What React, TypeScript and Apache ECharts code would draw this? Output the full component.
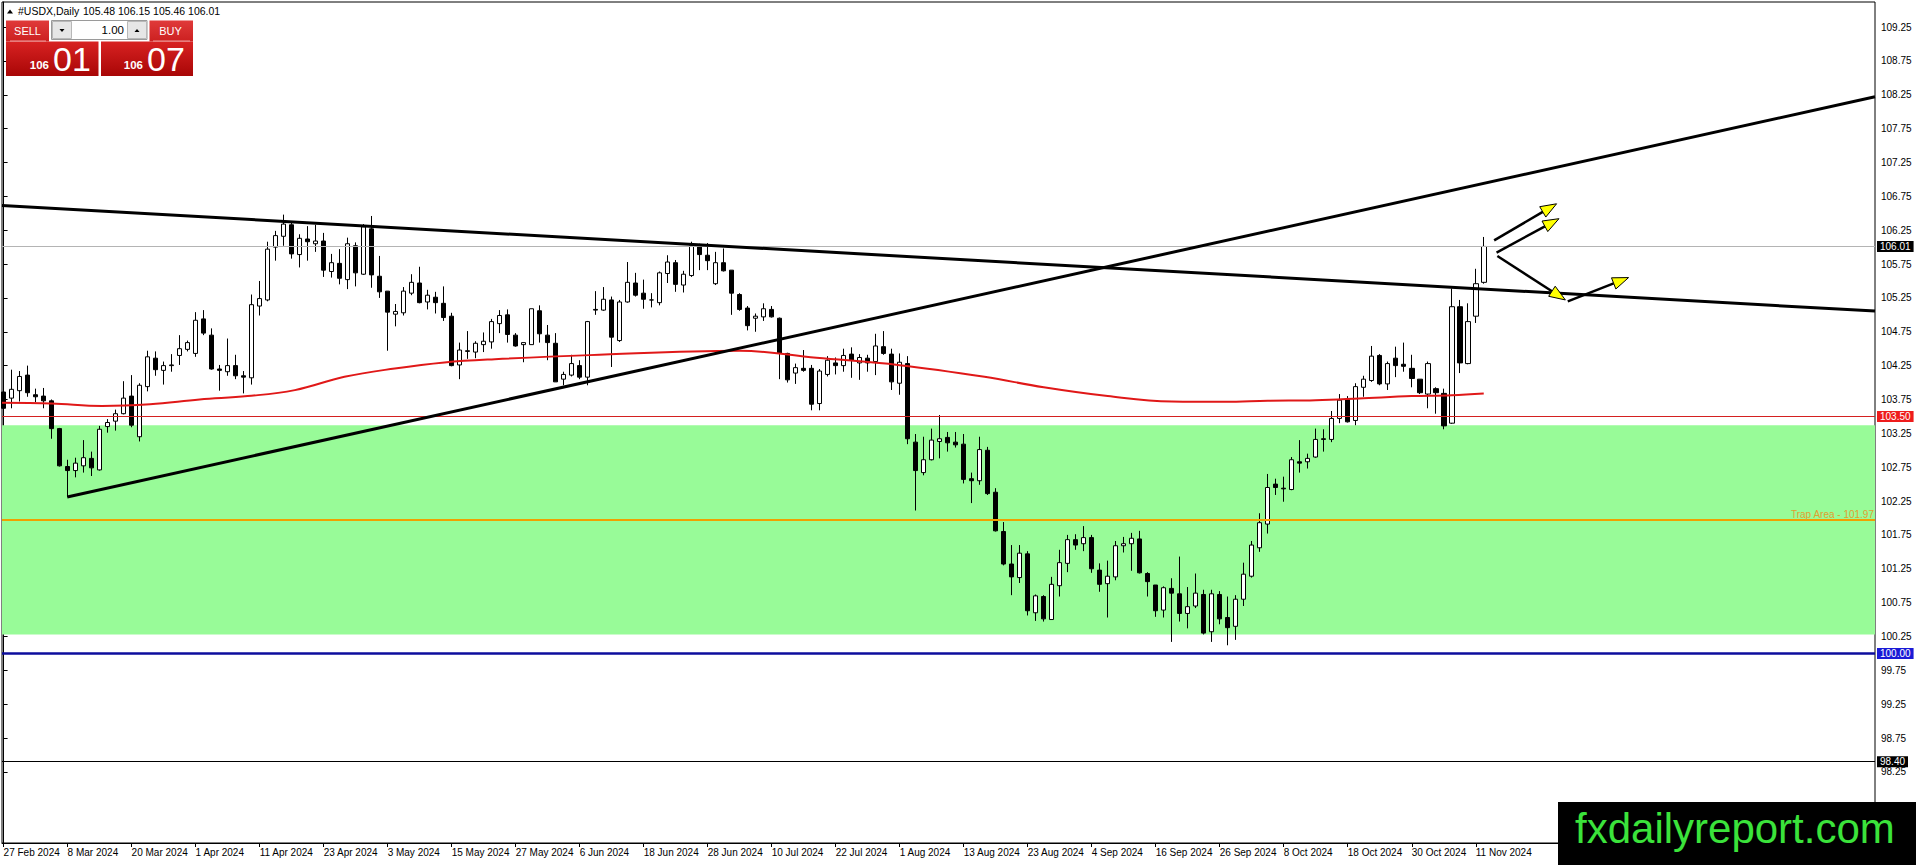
import React, { useEffect, useRef } from "react";
import * as echarts from "echarts";

// ---------- data ----------
const symbolName = "#USDX,Daily";
const bidPrice = 106.01;
const askPrice = 106.07;
const lotSize = "1.00";

const tickLabels = [
  "27 Feb 2024", "8 Mar 2024", "20 Mar 2024", "1 Apr 2024", "11 Apr 2024", "23 Apr 2024",
  "3 May 2024", "15 May 2024", "27 May 2024", "6 Jun 2024", "18 Jun 2024", "28 Jun 2024",
  "10 Jul 2024", "22 Jul 2024", "1 Aug 2024", "13 Aug 2024", "23 Aug 2024", "4 Sep 2024",
  "16 Sep 2024", "26 Sep 2024", "8 Oct 2024", "18 Oct 2024", "30 Oct 2024", "11 Nov 2024",
];
const tickBars = [0, 8, 16, 24, 32, 40, 48, 56, 64, 72, 80, 88, 96, 104, 112, 120, 128, 136, 144, 152, 160, 168, 176, 184];

const priceTicks = [
  98.25, 98.75, 99.25, 99.75, 100.25, 100.75, 101.25, 101.75, 102.25, 102.75, 103.25, 103.75,
  104.25, 104.75, 105.25, 105.75, 106.25, 106.75, 107.25, 107.75, 108.25, 108.75, 109.25,
];

// daily bars from 27 Feb 2024: [open, high, low, close]
const ohlc: number[][] = [
  [103.86, 103.95, 103.55, 103.62], [103.77, 104.19, 103.62, 103.90], [103.88, 104.17, 103.72, 104.09],
  [104.11, 104.25, 103.79, 103.85], [103.82, 103.91, 103.71, 103.79], [103.80, 103.92, 103.62, 103.73],
  [103.73, 103.75, 103.17, 103.32], [103.32, 103.33, 102.76, 102.77], [102.76, 102.86, 102.31, 102.70],
  [102.70, 102.89, 102.60, 102.81], [102.77, 103.15, 102.67, 102.89], [102.88, 102.98, 102.62, 102.74],
  [102.71, 103.36, 102.70, 103.31], [103.35, 103.46, 103.26, 103.41], [103.43, 103.60, 103.29, 103.54],
  [103.54, 104.02, 103.53, 103.77], [103.80, 104.11, 103.34, 103.37], [103.20, 103.99, 103.13, 103.96],
  [103.94, 104.47, 103.87, 104.38], [104.36, 104.46, 104.10, 104.19], [104.18, 104.31, 103.97, 104.25],
  [104.25, 104.42, 104.16, 104.26], [104.40, 104.70, 104.26, 104.50], [104.49, 104.62, 104.46, 104.59],
  [104.43, 105.04, 104.38, 104.92], [104.94, 105.07, 104.70, 104.73], [104.70, 104.80, 104.19, 104.20],
  [104.20, 104.26, 103.88, 104.18], [104.16, 104.65, 104.10, 104.25], [104.25, 104.41, 104.05, 104.10],
  [104.10, 104.17, 103.84, 104.08], [104.07, 105.30, 103.97, 105.15], [105.13, 105.50, 104.99, 105.24],
  [105.22, 106.08, 105.20, 105.97], [106.00, 106.24, 105.80, 106.17], [106.16, 106.48, 106.02, 106.34],
  [106.33, 106.38, 105.83, 105.90], [105.89, 106.19, 105.70, 106.13], [106.12, 106.31, 105.80, 106.08],
  [106.05, 106.33, 105.93, 106.09], [106.09, 106.21, 105.56, 105.66], [105.64, 105.90, 105.55, 105.77],
  [105.76, 105.97, 105.45, 105.54], [105.52, 106.14, 105.38, 106.05], [106.02, 106.07, 105.42, 105.62],
  [105.60, 106.34, 105.59, 106.30], [106.27, 106.46, 105.40, 105.59], [105.57, 105.87, 105.25, 105.34],
  [105.35, 105.35, 104.47, 105.04], [105.01, 105.16, 104.83, 105.05], [105.03, 105.41, 104.99, 105.35],
  [105.32, 105.60, 105.29, 105.48], [105.47, 105.71, 105.17, 105.18], [105.19, 105.37, 105.08, 105.29],
  [105.26, 105.34, 105.02, 105.18], [105.17, 105.42, 104.91, 104.96], [104.98, 105.03, 104.24, 104.25],
  [104.26, 104.59, 104.05, 104.48], [104.46, 104.76, 104.35, 104.47], [104.45, 104.61, 104.36, 104.58],
  [104.56, 104.74, 104.45, 104.61], [104.60, 104.94, 104.50, 104.90], [104.87, 105.07, 104.73, 104.99],
  [105.00, 105.08, 104.59, 104.71], [104.70, 104.73, 104.53, 104.54], [104.56, 104.59, 104.30, 104.59],
  [104.56, 105.09, 104.56, 105.09], [105.06, 105.14, 104.59, 104.72], [104.70, 104.85, 104.33, 104.59],
  [104.58, 104.73, 104.01, 104.01], [104.05, 104.16, 103.96, 104.12], [104.11, 104.41, 104.09, 104.28],
  [104.25, 104.33, 104.05, 104.08], [104.08, 104.91, 103.96, 104.90], [105.08, 105.35, 105.00, 105.07],
  [105.07, 105.41, 105.06, 105.23], [105.22, 105.27, 104.23, 104.67], [104.62, 105.22, 104.60, 105.19],
  [105.19, 105.78, 105.18, 105.48], [105.47, 105.62, 105.27, 105.29], [105.32, 105.52, 105.09, 105.23],
  [105.22, 105.32, 105.11, 105.22], [105.18, 105.64, 105.14, 105.62], [105.61, 105.88, 105.47, 105.78],
  [105.77, 105.81, 105.34, 105.45], [105.44, 105.65, 105.33, 105.60], [105.58, 106.08, 105.56, 106.02],
  [106.01, 106.05, 105.66, 105.89], [105.88, 106.06, 105.66, 105.80], [105.46, 105.93, 105.44, 105.77],
  [105.77, 105.98, 105.64, 105.65], [105.66, 105.66, 105.00, 105.32], [105.30, 105.32, 105.06, 105.08],
  [105.10, 105.13, 104.77, 104.84], [104.95, 105.02, 104.75, 104.98], [104.97, 105.17, 104.91, 105.09],
  [105.08, 105.13, 104.96, 104.97], [104.95, 104.96, 104.05, 104.43], [104.43, 104.44, 104.00, 104.04],
  [104.14, 104.28, 103.98, 104.22], [104.21, 104.48, 104.16, 104.18], [104.21, 104.26, 103.59, 103.68],
  [103.69, 104.20, 103.59, 104.17], [104.12, 104.39, 104.09, 104.33], [104.29, 104.37, 104.12, 104.25],
  [104.25, 104.50, 104.16, 104.40], [104.42, 104.52, 104.07, 104.33], [104.29, 104.42, 104.04, 104.37],
  [104.36, 104.41, 104.16, 104.29], [104.31, 104.72, 104.11, 104.54], [104.53, 104.76, 104.41, 104.43],
  [104.42, 104.50, 103.89, 104.01], [103.99, 104.43, 103.82, 104.30], [104.28, 104.39, 103.09, 103.17],
  [103.12, 103.24, 102.11, 102.70], [102.67, 103.20, 102.63, 102.86], [102.86, 103.32, 102.85, 103.15],
  [103.13, 103.52, 102.88, 103.17], [103.19, 103.27, 102.98, 103.11], [103.12, 103.27, 103.04, 103.08],
  [103.09, 103.24, 102.51, 102.57], [102.58, 102.67, 102.22, 102.55], [102.55, 103.20, 102.49, 103.01],
  [103.00, 103.05, 102.34, 102.36], [102.38, 102.44, 101.80, 101.81], [101.80, 101.94, 101.30, 101.32],
  [101.32, 101.60, 100.86, 101.13], [101.12, 101.60, 101.04, 101.48], [101.47, 101.51, 100.56, 100.63],
  [100.60, 100.87, 100.48, 100.85], [100.84, 100.86, 100.47, 100.51], [100.50, 101.13, 100.50, 101.02],
  [101.00, 101.53, 100.84, 101.34], [101.33, 101.75, 101.20, 101.68], [101.68, 101.76, 101.53, 101.60],
  [101.62, 101.88, 101.51, 101.71], [101.71, 101.75, 101.19, 101.25], [101.23, 101.33, 100.91, 101.02],
  [101.03, 101.37, 100.53, 101.14], [101.13, 101.66, 101.08, 101.59], [101.59, 101.72, 101.49, 101.62],
  [101.62, 101.78, 101.22, 101.70], [101.69, 101.81, 101.18, 101.19], [101.18, 101.20, 100.84, 101.06],
  [101.01, 101.01, 100.54, 100.63], [100.64, 100.99, 100.53, 100.97], [100.96, 101.11, 100.17, 100.89],
  [100.88, 101.43, 100.47, 100.59], [100.59, 100.98, 100.37, 100.69], [100.70, 101.18, 100.67, 100.89],
  [100.87, 100.94, 100.28, 100.30], [100.32, 100.94, 100.17, 100.88], [100.87, 100.92, 100.43, 100.51],
  [100.53, 100.84, 100.12, 100.38], [100.40, 100.86, 100.20, 100.80], [100.80, 101.34, 100.70, 101.17],
  [101.14, 101.66, 101.12, 101.60], [101.56, 102.07, 101.50, 101.93], [101.91, 102.65, 101.77, 102.45],
  [102.50, 102.58, 102.34, 102.45], [102.44, 102.61, 102.24, 102.43], [102.42, 102.90, 102.41, 102.86],
  [102.83, 103.15, 102.67, 102.81], [102.83, 102.95, 102.73, 102.88], [102.90, 103.32, 102.89, 103.16],
  [103.17, 103.31, 102.98, 103.16], [103.16, 103.58, 103.12, 103.47], [103.47, 103.83, 103.40, 103.74],
  [103.75, 103.80, 103.41, 103.42], [103.44, 103.99, 103.37, 103.94], [103.93, 104.10, 103.79, 104.05],
  [104.03, 104.54, 104.01, 104.39], [104.40, 104.42, 103.96, 103.98], [103.98, 104.31, 103.89, 104.28],
  [104.36, 104.53, 104.08, 104.25], [104.27, 104.59, 104.16, 104.24], [104.21, 104.41, 103.93, 104.06],
  [104.05, 104.05, 103.83, 103.85], [103.83, 104.31, 103.62, 104.28], [103.91, 103.93, 103.54, 103.85],
  [103.84, 103.91, 103.31, 103.36], [103.40, 105.39, 103.39, 105.12], [105.12, 105.22, 104.14, 104.29],
  [104.28, 105.17, 104.27, 104.90], [104.98, 105.68, 104.88, 105.46], [105.48, 106.15, 105.46, 106.01],
];

// moving average: [bar, value]
const maPoints = [
  [-0.2, 103.7], [6, 103.69], [12.3, 103.655], [18.3, 103.68], [24.5, 103.75], [30.5, 103.8],
  [36.4, 103.888], [42.6, 104.085], [48.9, 104.208], [55.1, 104.297], [61.4, 104.345],
  [73.25, 104.405], [92, 104.469], [101.6, 104.366], [112, 104.257], [122.6, 104.085],
  [130, 103.93], [138, 103.8], [146, 103.72], [152.6, 103.715], [158, 103.73], [164, 103.74],
  [169.4, 103.765], [176, 103.8], [181, 103.814], [185, 103.84],
];

const trendDown = [[-0.2, 106.615], [233.9, 105.055]];
const trendUp = [[7.95, 102.31], [233.9, 108.22]];

// arrows: [fromBar, fromPrice, toBar, toPrice]
const arrows = [
  [186.3, 106.1, 194.1, 106.64],
  [186.6, 105.92, 194.4, 106.42],
  [186.7, 105.87, 195.2, 105.22],
  [195.5, 105.2, 203.1, 105.55],
];

const trapZoneTop = 103.37;
const trapZoneBottom = 100.28;
const trapLevel = 101.97;
const redLevel = 103.5;
const blueLevel = 100.0;
const blackLevel = 98.4;

// ---------- chart ----------
const AXIS_FONT = "'Liberation Sans', Arial, sans-serif";
const UI_FONT = "'Liberation Sans', Arial, sans-serif";
const X_MIN = -0.2;
const X_MAX = 233.9;

function tag(text: string, bg: string) {
  return {
    show: true,
    position: "end",
    distance: 2,
    formatter: text,
    backgroundColor: bg,
    color: "#fff",
    padding: [1, 3, 0, 3],
    fontSize: 10,
    lineHeight: 10,
    fontFamily: AXIS_FONT,
  };
}

function buildOption() {
  const candleData = ohlc.map((c, i) => [i, c[0], c[3], c[2], c[1]]);
  const last = ohlc[ohlc.length - 1];
  const redTop = new echarts.graphic.LinearGradient(0, 0, 0, 1, [
    { offset: 0, color: "#e03a3a" },
    { offset: 1, color: "#cc2020" },
  ]);
  const redBox = new echarts.graphic.LinearGradient(0, 0, 0, 1, [
    { offset: 0, color: "#d82222" },
    { offset: 1, color: "#a80606" },
  ]);
  const bidParts = bidPrice.toFixed(2).split(".");
  const askParts = askPrice.toFixed(2).split(".");

  const graphic: any[] = [
    // header
    { type: "polygon", z: 50, shape: { points: [[7, 13.5], [13, 13.5], [10, 9.5]] }, style: { fill: "#000" } },
    { type: "text", z: 50, x: 18, y: 11, style: { text: symbolName, fontSize: 10.5, fontFamily: UI_FONT, fill: "#000", verticalAlign: "middle" } },
    {
      type: "text", z: 50, x: 83, y: 11,
      style: { text: last.map((v) => v.toFixed(2)).join(" "), fontSize: 10.5, fontFamily: UI_FONT, fill: "#000", verticalAlign: "middle" },
    },
    // SELL / BUY top buttons
    { type: "rect", z: 50, shape: { x: 6, y: 20.5, width: 43, height: 21 }, style: { fill: redTop } },
    { type: "line", z: 51, shape: { x1: 10, y1: 41, x2: 46, y2: 41 }, style: { stroke: "#f0a0a0", lineWidth: 1 } },
    { type: "text", z: 51, x: 27.5, y: 31, style: { text: "SELL", fontSize: 11, fontFamily: UI_FONT, fill: "#fff", align: "center", verticalAlign: "middle" } },
    { type: "rect", z: 50, shape: { x: 149.5, y: 20.5, width: 43.5, height: 21 }, style: { fill: redTop } },
    { type: "line", z: 51, shape: { x1: 153, y1: 41, x2: 190, y2: 41 }, style: { stroke: "#f0a0a0", lineWidth: 1 } },
    { type: "text", z: 51, x: 170.5, y: 31, style: { text: "BUY", fontSize: 11, fontFamily: UI_FONT, fill: "#fff", align: "center", verticalAlign: "middle" } },
    // lot box
    { type: "rect", z: 50, shape: { x: 51.5, y: 20.5, width: 95.5, height: 19 }, style: { fill: "#fff", stroke: "#9a9a9a", lineWidth: 1 } },
    { type: "rect", z: 51, shape: { x: 52.5, y: 21.5, width: 19, height: 17 }, style: { fill: "#e6e6e6", stroke: "#b8b8b8", lineWidth: 1 } },
    { type: "polygon", z: 52, shape: { points: [[59.5, 29], [64.5, 29], [62, 32]] }, style: { fill: "#000" } },
    { type: "rect", z: 51, shape: { x: 127.5, y: 21.5, width: 19, height: 17 }, style: { fill: "#e6e6e6", stroke: "#b8b8b8", lineWidth: 1 } },
    { type: "polygon", z: 52, shape: { points: [[134.5, 32], [139.5, 32], [137, 29]] }, style: { fill: "#000" } },
    { type: "text", z: 52, x: 124, y: 30, style: { text: lotSize, fontSize: 11.5, fontFamily: UI_FONT, fill: "#000", align: "right", verticalAlign: "middle" } },
    // price boxes
    { type: "rect", z: 50, shape: { x: 6, y: 41.5, width: 92.5, height: 34.5 }, style: { fill: redBox } },
    { type: "rect", z: 50, shape: { x: 101, y: 41.5, width: 92, height: 34.5 }, style: { fill: redBox } },
    { type: "text", z: 51, x: 49, y: 71, style: { text: bidParts[0], fontSize: 11.5, fontWeight: "bold", fontFamily: UI_FONT, fill: "#fff", align: "right", verticalAlign: "bottom" } },
    { type: "text", z: 51, x: 53, y: 76, style: { text: bidParts[1], fontSize: 34, fontFamily: UI_FONT, fill: "#fff", verticalAlign: "bottom" } },
    { type: "text", z: 51, x: 143, y: 71, style: { text: askParts[0], fontSize: 11.5, fontWeight: "bold", fontFamily: UI_FONT, fill: "#fff", align: "right", verticalAlign: "bottom" } },
    { type: "text", z: 51, x: 147, y: 76, style: { text: askParts[1], fontSize: 34, fontFamily: UI_FONT, fill: "#fff", verticalAlign: "bottom" } },
    // watermark
    { type: "rect", z: 100, shape: { x: 1558, y: 802, width: 358, height: 63 }, style: { fill: "#000" } },
    {
      type: "text", z: 101, x: 1575, y: 828,
      style: { text: "fxdailyreport.com", fontSize: 42, fontFamily: UI_FONT, fill: "#3be33b", verticalAlign: "middle" },
    },
  ];

  return {
    animation: false,
    backgroundColor: "#ffffff",
    grid: { left: 2, right: 41, top: 2, bottom: 22, show: true, borderColor: "#000", borderWidth: 1, backgroundColor: "transparent" },
    xAxis: {
      type: "value",
      min: X_MIN,
      max: X_MAX,
      position: "bottom",
      axisLine: { show: true, onZero: false, lineStyle: { color: "#000", width: 1 } },
      axisTick: { show: true, length: 4, customValues: tickBars, lineStyle: { color: "#000" } },
      axisLabel: {
        customValues: tickBars,
        formatter: (v: number) => tickLabels[Math.round(v / 8)] ?? "",
        align: "left",
        margin: 4,
        fontSize: 10,
        fontFamily: AXIS_FONT,
        color: "#000",
      },
      splitLine: { show: false },
    },
    yAxis: {
      type: "value",
      position: "right",
      min: 97.2,
      max: 109.62,
      axisLine: { show: true, lineStyle: { color: "#000", width: 1 } },
      axisTick: { show: true, length: 4, customValues: priceTicks, lineStyle: { color: "#000" } },
      axisLabel: {
        customValues: priceTicks,
        formatter: (v: number) => v.toFixed(2),
        margin: 6,
        fontSize: 10,
        fontFamily: AXIS_FONT,
        color: "#000",
      },
      splitLine: { show: false },
    },
    series: [
      {
        type: "line",
        name: "zone",
        data: [],
        z: 1,
        silent: true,
        markArea: {
          silent: true,
          itemStyle: { color: "#98fb98", opacity: 1 },
          data: [[{ xAxis: X_MIN, yAxis: trapZoneTop }, { xAxis: X_MAX, yAxis: trapZoneBottom }]],
        },
      },
      {
        type: "line",
        name: "levels",
        data: [],
        z: 2,
        clip: false,
        silent: true,
        markLine: {
          silent: true,
          symbol: ["none", "none"],
          data: [
            { yAxis: bidPrice, lineStyle: { color: "#b4b4b4", width: 1, type: "solid" }, label: tag(bidPrice.toFixed(2), "#000") },
            { yAxis: redLevel, lineStyle: { color: "#d42020", width: 1, type: "solid" }, label: tag(redLevel.toFixed(2), "#ee1c1c") },
            {
              yAxis: trapLevel,
              lineStyle: { color: "#f0a000", width: 2, type: "solid" },
              label: {
                show: true, position: "insideEndTop", distance: 1, formatter: "Trap Area - " + trapLevel.toFixed(2),
                color: "#e0a030", fontSize: 10, fontFamily: UI_FONT,
              },
            },
            { yAxis: blueLevel, lineStyle: { color: "#0c0c9c", width: 2.5, type: "solid" }, label: tag(blueLevel.toFixed(2), "#1a1ad6") },
            { yAxis: blackLevel, lineStyle: { color: "#000", width: 1, type: "solid" }, label: tag(blackLevel.toFixed(2), "#000") },
          ],
        },
      },
      {
        type: "candlestick",
        name: "USDX",
        data: candleData,
        encode: { x: 0, y: [1, 2, 3, 4] },
        barWidth: 5,
        z: 3,
        silent: true,
        itemStyle: { color: "#ffffff", color0: "#000000", borderColor: "#000000", borderColor0: "#000000", borderWidth: 1 },
      },
      {
        type: "line",
        name: "MA",
        data: maPoints,
        smooth: 0.4,
        showSymbol: false,
        silent: true,
        z: 4,
        lineStyle: { color: "#e01818", width: 2 },
      },
      {
        type: "line", name: "trendDown", data: trendDown, showSymbol: false, silent: true, z: 5,
        lineStyle: { color: "#000", width: 3 },
      },
      {
        type: "line", name: "trendUp", data: trendUp, showSymbol: false, silent: true, z: 5,
        lineStyle: { color: "#000", width: 3 },
      },
      {
        type: "custom",
        name: "arrows",
        data: arrows,
        encode: { x: [0, 2], y: [1, 3] },
        z: 6,
        silent: true,
        clip: false,
        renderItem: (params: any, api: any) => {
          const p1 = api.coord([api.value(0), api.value(1)]);
          const p2 = api.coord([api.value(2), api.value(3)]);
          const dx = p2[0] - p1[0];
          const dy = p2[1] - p1[1];
          const len = Math.sqrt(dx * dx + dy * dy) || 1;
          const ux = dx / len;
          const uy = dy / len;
          const headLen = 16;
          const half = 6;
          const bx = p2[0] - ux * headLen;
          const by = p2[1] - uy * headLen;
          const nx = -uy;
          const ny = ux;
          return {
            type: "group",
            children: [
              { type: "line", shape: { x1: p1[0], y1: p1[1], x2: bx, y2: by }, style: { stroke: "#000", lineWidth: 2.5 } },
              {
                type: "polygon",
                shape: { points: [[p2[0], p2[1]], [bx + nx * half, by + ny * half], [bx - nx * half, by - ny * half]] },
                style: { fill: "#ffff00", stroke: "#000", lineWidth: 1 },
              },
            ],
          };
        },
      },
    ],
    graphic,
  };
}

export default function App() {
  const ref = useRef<HTMLDivElement>(null);
  useEffect(() => {
    if (!ref.current) return;
    const chart = echarts.init(ref.current, null, { renderer: "svg" });
    chart.setOption(buildOption() as any);
    return () => chart.dispose();
  }, []);
  return (
    <div
      ref={ref}
      style={{ position: "fixed", left: 0, top: 0, width: 1916, height: 865, background: "#fff" }}
    />
  );
}
